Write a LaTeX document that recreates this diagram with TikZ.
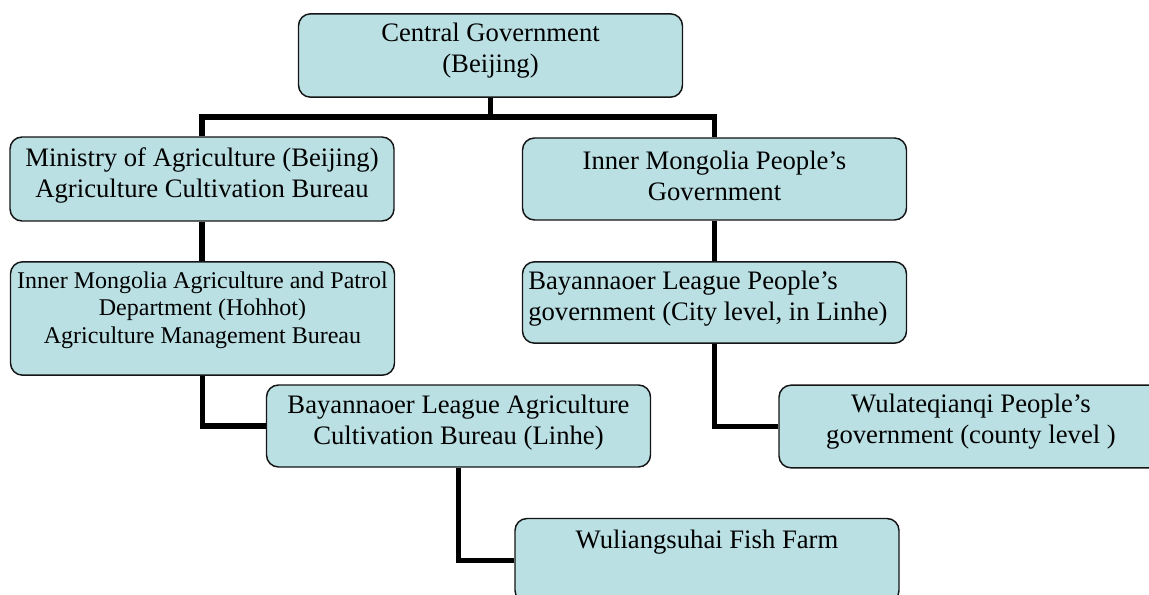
\documentclass[tikz,border=0pt]{standalone}
\usepackage{fontspec}
\setmainfont{Liberation Serif}
\definecolor{boxfill}{RGB}{186,224,228}
\definecolor{boxline}{RGB}{20,20,20}
\begin{document}
\begin{tikzpicture}[x=0.75pt,y=-0.75pt,
  box/.style={draw=boxline, line width=1.1pt, fill=boxfill, rounded corners=9pt,
    minimum width=288pt, minimum height=62pt, inner sep=0pt, align=center,
    font=\fontsize{20}{23.2}\selectfont},
  txt/.style={inner sep=0pt, font=\fontsize{20}{23.2}\selectfont},
  conn/.style={draw=black, line width=3.8pt, line join=miter}]
\useasboundingbox (0,0) rectangle (1149,595);
\clip (0,0) rectangle (1149,595);
% boxes
\node[box, minimum height=62.5pt] (central) at (490.5,55.5) {};
\node[txt, align=center] (centralt) at (490.5,51) {Central Government\\(Beijing)};
\node[box, minimum height=63pt] (ministry) at (202,179) {};
\node[txt, align=center] (ministryt) at (202,175.5) {Ministry of Agriculture (Beijing)\\Agriculture Cultivation Bureau};
\node[box, minimum height=61.5pt] (impg) at (714.5,179) {};
\node[txt, align=center] (impgt) at (714.5,175.5) {Inner Mongolia People’s\\Government};
\node[box, minimum height=85pt] (imagri) at (202.5,318.5) {};
\node[txt, align=center, font=\fontsize{18}{20.7}\selectfont] (imagrit) at (202.5,310) {Inner Mongolia Agriculture and Patrol\\Department (Hohhot)\\ Agriculture Management Bureau};
\node[box, minimum height=61pt] (bayppl) at (714.5,302.5) {};
\node[txt, align=left, anchor=west] (bayppit) at (528,299) {Bayannaoer League People’s\\government (City level, in Linhe)};
\node[box, minimum height=61.5pt] (bayagri) at (458.5,426) {};
\node[txt, align=center] (bayagrit) at (458.5,423) {Bayannaoer League Agriculture\\Cultivation Bureau (Linhe)};
\node[box, minimum height=62pt] (wula) at (971,426.5) {};
\node[txt, align=center] (wulat) at (971,421.5) {Wulateqianqi People’s\\government (county level )};
\node[box, minimum height=63pt] (fish) at (707,560.5) {};
\node[txt] (fisht) at (707,542) {Wuliangsuhai Fish Farm};
% connectors
\coordinate (jt) at (central.south |- 0,117);
\draw[conn] (central.south) -- (jt);
\draw[conn] (ministry.north) |- (jt) -| (impg.north);
\draw[conn] (ministry.south) -- (ministry.south |- imagri.north);
\draw[conn] (impg.south) -- (impg.south |- bayppl.north);
\draw[conn] (imagri.south) |- (bayagri.west);
\draw[conn] (bayppl.south) |- (wula.west);
\draw[conn] (bayagri.south) |- (fish.west);
\end{tikzpicture}
\end{document}
